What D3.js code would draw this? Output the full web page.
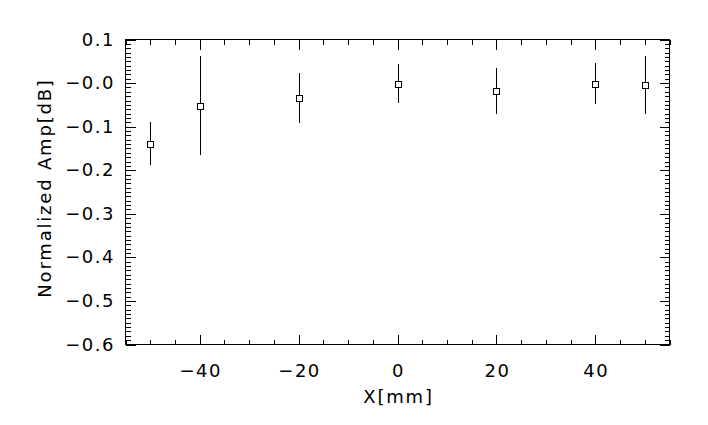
<!DOCTYPE html>
<html>
<head>
<meta charset="utf-8">
<script src="https://cdn.jsdelivr.net/npm/d3@7"></script>
<style>
  html, body { margin: 0; padding: 0; background: #fff; }
  svg { display: block; }
  text { font-family: "DejaVu Sans", sans-serif; fill: #000; font-weight: normal; }
</style>
</head>
<body>
<svg id="chart" width="708" height="425"></svg>
<script>
// ---- data ----
const xPos   = [-50, -40, -20, 0, 20, 40, 50];
const yVals  = [-0.139, -0.052, -0.034, -0.001, -0.018, -0.001, -0.004];
const yErrs  = [0.050, 0.114, 0.058, 0.045, 0.053, 0.046, 0.067];
const xTicks = [-40, -20, 0, 20, 40];
const xTickLabels = ["\u221240", "\u221220", "0", "20", "40"];
const yTicks = [0.1, 0.0, -0.1, -0.2, -0.3, -0.4, -0.5, -0.6];
const yTickLabels = ["0.1", "\u22120.0", "\u22120.1", "\u22120.2", "\u22120.3", "\u22120.4", "\u22120.5", "\u22120.6"];
const xTitle = "X[mm]";
const yTitle = "Normalized Amp[dB]";

// ---- layout ----
const L = 125.5, R = 669.5, T = 39.5, B = 344.5;
const svg = d3.select("#chart");
const x = d3.scaleLinear().domain([-55, 55]).range([L, R]);
const y = d3.scaleLinear().domain([-0.6, 0.1]).range([B, T]);

const xMinor = d3.range(-55, 55.001, 5).filter(v => !xTicks.includes(v));
const yMinor = d3.range(-60, 10.001, 1).map(v => v / 100).filter(v => !yTicks.some(t => Math.abs(t - v) < 1e-9));

const g = svg.append("g").attr("shape-rendering", "crispEdges");

// frame
g.append("rect").attr("x", L).attr("y", T).attr("width", R - L).attr("height", B - T)
  .attr("fill", "none").attr("stroke", "#000").attr("stroke-width", 1);

function tickLines(vals, len, horizontal) {
  vals.forEach(v => {
    if (horizontal) {
      const px = Math.round(x(v)) + 0.5;
      g.append("line").attr("x1", px).attr("x2", px).attr("y1", B).attr("y2", B - len).attr("stroke", "#000");
      g.append("line").attr("x1", px).attr("x2", px).attr("y1", T).attr("y2", T + len).attr("stroke", "#000");
    } else {
      const py = Math.round(y(v)) + 0.5;
      g.append("line").attr("y1", py).attr("y2", py).attr("x1", L).attr("x2", L + len).attr("stroke", "#000");
      g.append("line").attr("y1", py).attr("y2", py).attr("x1", R).attr("x2", R - len).attr("stroke", "#000");
    }
  });
}
tickLines(xTicks, 10, true);
tickLines(xMinor, 5, true);
tickLines(yTicks, 10, false);
tickLines(yMinor, 5, false);

// tick labels
xTicks.forEach((v, i) => {
  svg.append("text").attr("x", x(v) + 1).attr("y", 377)
    .attr("text-anchor", "middle").attr("font-size", 18)
    .attr("letter-spacing", 1.5).text(xTickLabels[i]);
});
yTicks.forEach((v, i) => {
  svg.append("text").attr("x", 115).attr("y", y(v) + 6)
    .attr("text-anchor", "end").attr("font-size", 18)
    .attr("letter-spacing", 1.5).text(yTickLabels[i]);
});

// titles
svg.append("text").attr("x", (L + R) / 2 + 1).attr("y", 403)
  .attr("text-anchor", "middle").attr("font-size", 18)
  .attr("letter-spacing", 1.8).text(xTitle);
svg.append("text").attr("transform", `translate(51,${(T + B) / 2 - 4}) rotate(-90)`)
  .attr("text-anchor", "middle").attr("font-size", 18)
  .attr("letter-spacing", 1.8).text(yTitle);

// error bars
const pts = xPos.map((xv, i) => ({ x: xv, y: yVals[i], e: yErrs[i] }));
g.selectAll("line.err").data(pts).enter().append("line").attr("class", "err")
  .attr("x1", d => Math.round(x(d.x)) + 0.5).attr("x2", d => Math.round(x(d.x)) + 0.5)
  .attr("y1", d => y(d.y + d.e)).attr("y2", d => y(d.y - d.e))
  .attr("stroke", "#000").attr("stroke-width", 1);

// square markers
g.selectAll("rect.pt").data(pts).enter().append("rect").attr("class", "pt")
  .attr("x", d => Math.round(x(d.x)) - 2.5).attr("y", d => Math.round(y(d.y)) - 2.5)
  .attr("width", 6).attr("height", 6)
  .attr("fill", "#fff").attr("stroke", "#000").attr("stroke-width", 1);
</script>
</body>
</html>
